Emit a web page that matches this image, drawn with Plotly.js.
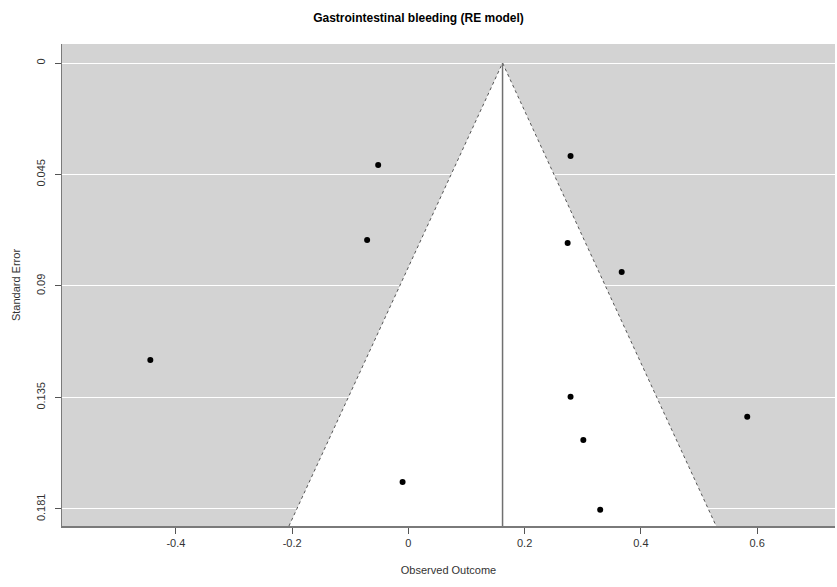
<!DOCTYPE html>
<html>
<head>
<meta charset="utf-8">
<script src="https://cdn.plot.ly/plotly-3.0.1.min.js"></script>
<style>html,body{margin:0;padding:0;background:#fff;}</style>
</head>
<body>
<div id="chart" style="width:837px;height:587px;"></div>
<script>
// Study estimates (observed outcome) and standard errors
const outcome = [-0.052, 0.279, -0.071, 0.274, 0.367, -0.444, 0.279, 0.583, 0.301, -0.010, 0.330];
const stdErr  = [0.0413, 0.0377, 0.0717, 0.0729, 0.0846, 0.1203, 0.1352, 0.1433, 0.1527, 0.1697, 0.1809];
// Pooled RE estimate
const pooled = 0.162;
const zCrit = 1.96;
// Axis ticks
const yTickVals = [0, 0.04515, 0.0903, 0.13545, 0.1806];
const yTickText = ['0', '0.045', '0.09', '0.135', '0.181'];
const xTickVals = [-0.4, -0.2, 0, 0.2, 0.4, 0.6];
const xTickText = ['-0.4', '-0.2', '0', '0.2', '0.4', '0.6'];

const yRange = [0.1875, -0.0077];
const xRange = [-0.596, 0.734];
const seBottom = yRange[0];

const funnelX = [pooled - zCrit * seBottom, pooled, pooled + zCrit * seBottom];
const funnelY = [seBottom, 0, seBottom];

const traces = [
  {
    x: funnelX.concat([funnelX[0]]),
    y: funnelY.concat([funnelY[0]]),
    type: 'scatter', mode: 'none', fill: 'toself', fillcolor: '#ffffff',
    hoverinfo: 'skip', showlegend: false
  },
  {
    x: funnelX, y: funnelY, type: 'scatter', mode: 'lines',
    line: {color: '#555555', width: 1, dash: 'dot'},
    hoverinfo: 'skip', showlegend: false
  },
  {
    x: [pooled, pooled], y: [0, seBottom], type: 'scatter', mode: 'lines',
    line: {color: '#707070', width: 1.5},
    hoverinfo: 'skip', showlegend: false
  },
  {
    x: outcome, y: stdErr, type: 'scatter', mode: 'markers',
    marker: {color: '#000000', size: 6},
    showlegend: false
  }
];

const axisFont = {family: 'Liberation Sans, Arial, sans-serif', size: 11, color: '#333333'};

const layout = {
  width: 837, height: 587,
  margin: {l: 62, r: 2, t: 44, b: 61},
  paper_bgcolor: '#ffffff',
  plot_bgcolor: '#d3d3d3',
  title: {
    text: '<b>Gastrointestinal bleeding (RE model)</b>',
    font: {family: 'Liberation Sans, Arial, sans-serif', size: 12, color: '#000000'},
    x: 0.5, xanchor: 'center', y: 0.969, yanchor: 'middle'
  },
  xaxis: {
    range: xRange, tickvals: xTickVals, ticktext: xTickText,
    showgrid: false, zeroline: false,
    showline: true, linecolor: '#7a7a7a', linewidth: 1.5,
    ticks: 'outside', ticklen: 6, tickcolor: '#555555', tickwidth: 1,
    tickfont: axisFont,
    title: {text: 'Observed Outcome', font: axisFont, standoff: 18}
  },
  yaxis: {
    range: yRange, tickvals: yTickVals, ticktext: yTickText,
    showgrid: true, gridcolor: '#ffffff', gridwidth: 1,
    zeroline: false,
    showline: true, linecolor: '#7a7a7a', linewidth: 1.5,
    ticks: 'outside', ticklen: 6, tickcolor: '#555555', tickwidth: 1,
    tickangle: -90, ticklabelstandoff: 5,
    tickfont: axisFont,
    title: {text: 'Standard Error', font: axisFont, standoff: 12}
  }
};

Plotly.newPlot('chart', traces, layout, {displayModeBar: false, staticPlot: true});
</script>
</body>
</html>
